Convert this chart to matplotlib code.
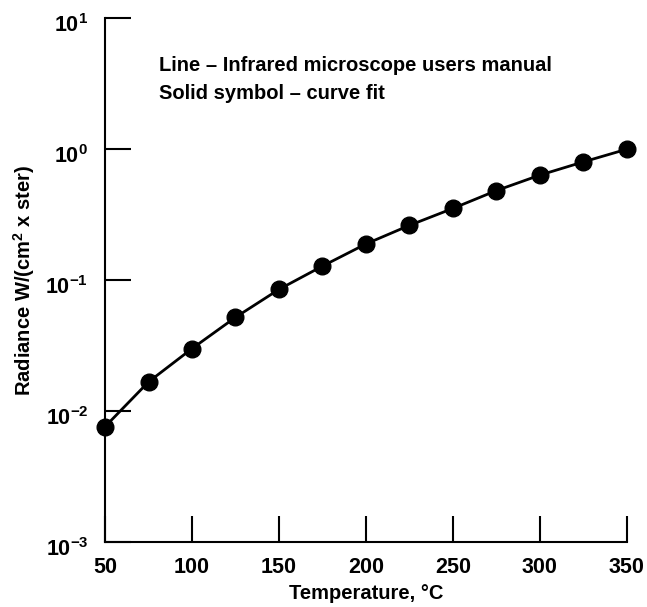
import numpy as np
import matplotlib
matplotlib.use('Agg')
import matplotlib.pyplot as plt
import matplotlib.transforms as mtransforms

plt.rcParams['font.family'] = 'Liberation Sans'
plt.rcParams['font.weight'] = 'bold'
plt.rcParams['axes.labelweight'] = 'bold'
plt.rcParams['mathtext.fontset'] = 'custom'
plt.rcParams['mathtext.rm'] = 'Liberation Sans:bold'
plt.rcParams['mathtext.it'] = 'Liberation Sans:bold:italic'
plt.rcParams['mathtext.bf'] = 'Liberation Sans:bold'

# Temperature (C) and radiance W/(cm^2 x ster)
temperature = [50, 75, 100, 125, 150, 175, 200, 225, 250, 275, 300, 325, 350]
radiance = [0.0076, 0.0167, 0.030, 0.052, 0.085, 0.128, 0.189, 0.262,
            0.353, 0.483, 0.634, 0.80, 1.0]

x_ticks = [50, 100, 150, 200, 250, 300, 350]
y_ticks = [1e-3, 1e-2, 1e-1, 1e0, 1e1]
y_ticklabels = [r'$10^{-3}$', r'$10^{-2}$', r'$10^{-1}$', r'$10^{0}$', r'$10^{1}$']

fig = plt.figure(figsize=(6.47, 6.07), dpi=100)
ax = fig.add_axes([0.1623, 0.107, 0.8067, 0.863])

ax.plot(temperature, radiance, color='black', lw=2, marker='o', ms=12,
        clip_on=False, zorder=3)

ax.set_yscale('log')
ax.set_xlim(50, 350)
ax.set_ylim(1e-3, 1e1)
ax.set_xticks(x_ticks)
ax.set_xticklabels([str(t) for t in x_ticks])
ax.set_yticks(y_ticks)
ax.set_yticklabels(y_ticklabels)
ax.minorticks_off()

for side in ['top', 'right']:
    ax.spines[side].set_visible(False)
for side in ['left', 'bottom']:
    ax.spines[side].set_linewidth(1.5)

ax.tick_params(axis='both', direction='in', length=19, width=1.5,
               labelsize=15.5, colors='black')
ax.tick_params(axis='x', pad=11)
ax.tick_params(axis='y', pad=12)

# y labels sit a little below their ticks in the original
shift = mtransforms.ScaledTranslation(0, -5 / 100, fig.dpi_scale_trans)
for lab in ax.get_yticklabels():
    lab.set_transform(lab.get_transform() + shift)

ax.set_xlabel('Temperature, °C', fontsize=14.5, labelpad=4)
ax.set_ylabel('Radiance W/(cm$^2$ x ster)', fontsize=14.5, labelpad=6)

ax.text(0.103, 0.928, 'Line – Infrared microscope users manual\nSolid symbol – curve fit',
        transform=ax.transAxes, fontsize=14.5, va='top', ha='left', linespacing=1.6)

fig.savefig('out.png', dpi=100)
